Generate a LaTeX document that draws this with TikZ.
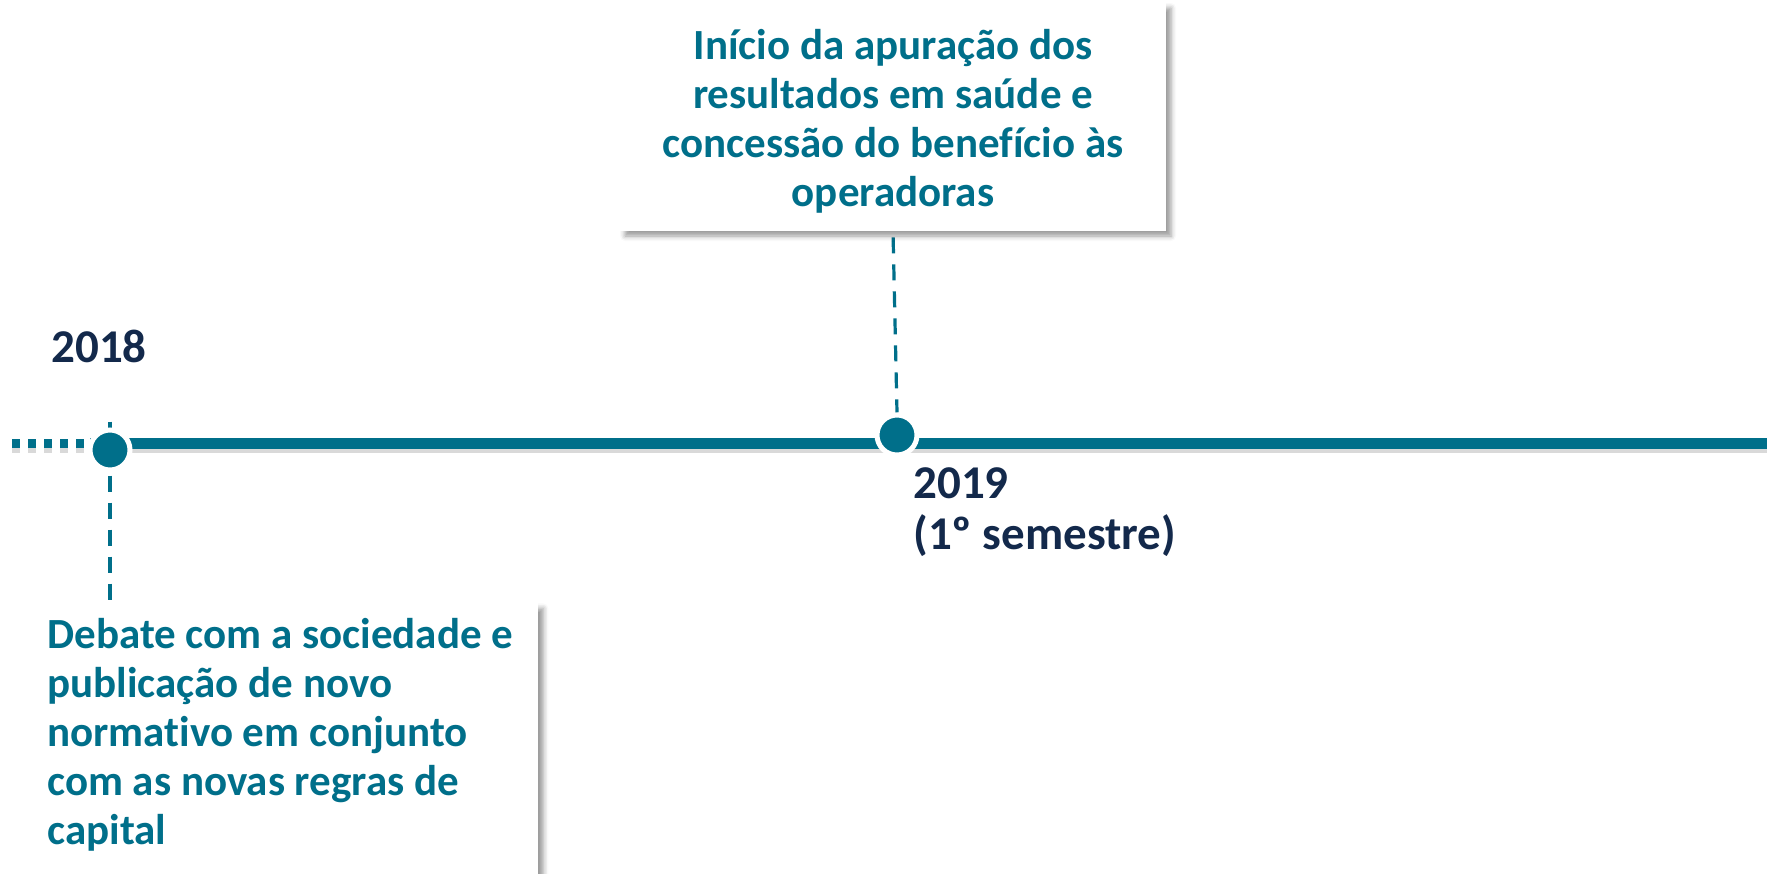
\documentclass[tikz,border=0pt]{standalone}
\usepackage{fontspec}
\setmainfont{Carlito}[Ligatures=NoCommon]
\usetikzlibrary{positioning,backgrounds,shadows.blur}
\definecolor{tlteal}{HTML}{006F8A}
\definecolor{tlnavy}{HTML}{13294B}

\begin{document}
\begin{tikzpicture}[
  x=0.5pt, y=-0.5pt,
  every node/.style={font=\fontsize{21.5}{24.5}\selectfont\bfseries},
  evbox/.style={fill=white,inner sep=0pt,
    blur shadow={shadow xshift=2.5pt,shadow yshift=-2.5pt,shadow blur radius=2.5pt}},
  evtext/.style={text=tlteal,inner sep=0pt},
  yearlabel/.style={text=tlnavy,align=left,inner sep=0pt,anchor=west,
    font=\fontsize{23.5}{25.5}\selectfont\bfseries},
  tlpoint/.style={circle,fill=tlteal,draw=white,line width=2.5pt,minimum size=20pt,inner sep=0pt},
  link/.style={tlteal,line width=1.6pt,dash pattern=on 8pt off 5.5pt},
  timeline/.style={tlteal,line width=5.5pt}
]
  \useasboundingbox (0,0) rectangle (1767,873);

  % timeline
  \coordinate (lstart) at (12,443);
  \coordinate (ldot)   at (90,443);
  \coordinate (lend)   at (1767,443);
  \draw[black,opacity=0.15,line width=4pt,dash pattern=on 4pt off 4pt]
    ([yshift=-3pt]lstart) -- ([yshift=-3pt]ldot);
  \draw[black,opacity=0.15,line width=4pt] ([yshift=-3pt]ldot) -- ([yshift=-3pt]lend);
  \draw[timeline,line width=4.5pt,dash pattern=on 4pt off 4pt] (lstart) -- (ldot);
  \draw[timeline] (ldot) -- (lend);

  \node[tlpoint] (c1) at (110,450) {};
  \node[tlpoint] (c2) at (897,435) {};

  % events
  \node[evbox,minimum width=273pt,minimum height=114pt] (boxA) at (893,117) {};
  \node[evtext,align=center] (txtA) at (893,121)
    {Início da apuração dos\\resultados em saúde e\\concessão do benefício às\\operadoras};

  \node[evbox,minimum width=255pt,minimum height=150pt,anchor=north west] (boxB) at (28,603) {};
  \node[evtext,align=left,anchor=north west] (txtB) at (47,618)
    {Debate com a sociedade e\\publicação de novo\\normativo em conjunto\\com as novas regras de\\capital};

  % years
  \node[yearlabel] (y2018) at (51,346) {2018};
  \node[yearlabel] (y2019) at (913,512) {2019\\(1º semestre)};

  \begin{pgfonlayer}{background}
    \draw[link] ([yshift=3pt]c1.north) -- (c1 |- boxB.north);
    \draw[link,shorten <=3pt] (boxA.south) -- (c2.north);
  \end{pgfonlayer}
\end{tikzpicture}
\end{document}
